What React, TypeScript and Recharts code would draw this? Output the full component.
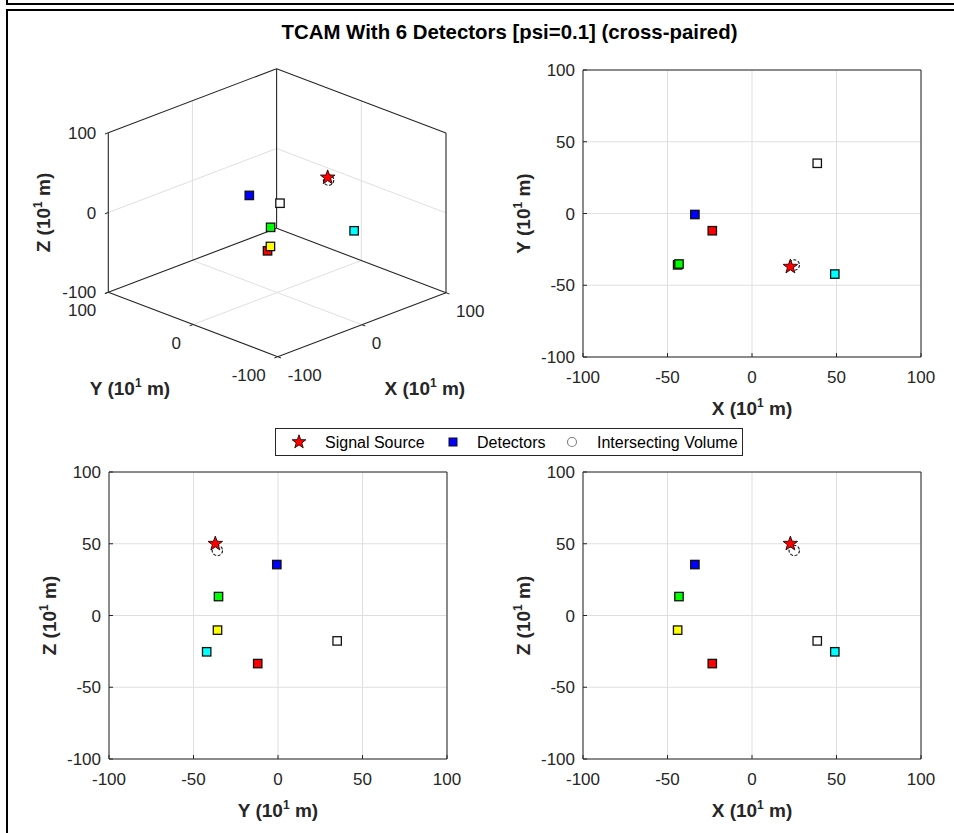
import React from 'react';
import { ScatterChart, Scatter, XAxis, YAxis, CartesianGrid, ReferenceLine } from 'recharts';

const FONT = '"Liberation Sans", Arial, Helvetica, sans-serif';
const AX = '#262626';
const GRID = '#dfdfdf';

const titleText = 'TCAM With 6 Detectors [psi=0.1] (cross-paired)';
const legendLabels = ['Signal Source', 'Detectors', 'Intersecting Volume'];

// detectors (drawing order)
const detectorColors = ['#ff0000', '#0000ff', '#ffff00', '#00ff00', '#00ffff', '#ffffff'];
const detectorX = [-23.5, -33.8, -44.0, -43.2, 49.0, 38.6];
const detectorY = [-12.0, -0.7, -35.8, -35.2, -42.2, 35.0];
const detectorZ = [-33.5, 35.5, -10.2, 13.2, -25.3, -17.7];
// signal source
const sourceX = [22.7];
const sourceY = [-37.1];
const sourceZ = [50.0];
// intersecting volume
const volumeX = [25.0];
const volumeY = [-35.9];
const volumeZ = [45.3];

const axisTicks = [-100, -50, 0, 50, 100];
const ticks3D = [-100, 0, 100];
const AXIS_MIN = -100;
const AXIS_MAX = 100;

// 3D view projection (azimuth -45, stretched MATLAB axes)
const PROJ = { xu: 0.8415, yu: -0.847, xv: 0.32, yv: 0.322, zv: 0.798 };
const proj = (x: number, y: number, z: number) => ({
  a: PROJ.xu * x + PROJ.yu * y,
  b: PROJ.xv * x + PROJ.yv * y + PROJ.zv * z,
});

function starPoints(cx: number, cy: number, R: number, r: number) {
  const pts: string[] = [];
  for (let i = 0; i < 10; i++) {
    const ang = -Math.PI / 2 + (i * Math.PI) / 5;
    const rad = i % 2 === 0 ? R : r;
    pts.push(`${(cx + rad * Math.cos(ang)).toFixed(2)},${(cy + rad * Math.sin(ang)).toFixed(2)}`);
  }
  return pts.join(' ');
}

const SquareShape = (props: any) => {
  const { cx, cy, payload } = props;
  if (cx == null || cy == null) return null;
  return (
    <rect x={cx - 4.2} y={cy - 4.2} width={8.4} height={8.4} fill={payload.fill} stroke="#111" strokeWidth={1.3} />
  );
};
const StarShape = (props: any) => {
  const { cx, cy } = props;
  if (cx == null || cy == null) return null;
  return <polygon points={starPoints(cx, cy, 7.6, 3.1)} fill="#ff0000" stroke="#200000" strokeWidth={0.9} />;
};
const CircleShape = (props: any) => {
  const { cx, cy } = props;
  if (cx == null || cy == null) return null;
  return <circle cx={cx} cy={cy} r={5.2} fill="#ffffff" stroke="#111" strokeWidth={1.1} strokeDasharray="3 1.6" />;
};
const NoShape = () => null;

const AxisTitle = ({ x, y, letter, rotate }: any) => (
  <text
    x={x}
    y={y}
    textAnchor="middle"
    fontFamily={FONT}
    fontSize={19}
    fontWeight="bold"
    fill={AX}
    transform={rotate ? `rotate(-90 ${x} ${y})` : undefined}
  >
    {`${letter} (10`}
    <tspan dy={-8} fontSize={12}>1</tspan>
    <tspan dy={8}>{' m)'}</tspan>
  </text>
);

const xLabel = (letter: string) => (p: any) => {
  const vb = p.viewBox || { x: 0, y: 0, width: 0 };
  return <AxisTitle x={vb.x + vb.width / 2} y={vb.y + 58} letter={letter} />;
};
const yLabel = (letter: string) => (p: any) => {
  const vb = p.viewBox || { x: 0, y: 0, height: 0 };
  return <AxisTitle x={vb.x + 7} y={vb.y + vb.height / 2} letter={letter} rotate />;
};

const tickStyle = { fontSize: 17, fill: AX, fontFamily: FONT };
const noLabel = () => '';

function Panel2D({ plotLeft, plotTop, ha, hb, sa, sb, va, vb, xLetter, yLetter }: any) {
  const PW = 338, PH = 287, ML = 23, YW = 60, MT = 10, MR = 20, XH = 70;
  const det = ha.map((a: number, i: number) => ({ a, b: hb[i], fill: detectorColors[i] }));
  const src = sa.map((a: number, i: number) => ({ a, b: sb[i] }));
  const vol = va.map((a: number, i: number) => ({ a, b: vb[i] }));
  return (
    <div style={{ position: 'absolute', left: plotLeft - ML - YW, top: plotTop - MT }}>
      <ScatterChart width={ML + YW + PW + MR} height={MT + PH + XH} margin={{ top: MT, right: MR, bottom: 0, left: ML }}>
        <CartesianGrid stroke={GRID} strokeWidth={1} />
        <XAxis
          type="number"
          dataKey="a"
          domain={[AXIS_MIN, AXIS_MAX]}
          ticks={axisTicks}
          interval={0}
          height={XH}
          tickSize={-4}
          tickMargin={18}
          stroke={AX}
          tick={tickStyle}
          label={xLabel(xLetter)}
        />
        <XAxis
          xAxisId="top"
          orientation="top"
          type="number"
          dataKey="a"
          domain={[AXIS_MIN, AXIS_MAX]}
          ticks={axisTicks}
          interval={0}
          height={0}
          tickSize={-4}
          stroke={AX}
          tickFormatter={noLabel}
        />
        <YAxis
          type="number"
          dataKey="b"
          domain={[AXIS_MIN, AXIS_MAX]}
          ticks={axisTicks}
          interval={0}
          width={YW}
          tickSize={-4}
          tickMargin={12}
          stroke={AX}
          tick={tickStyle}
          label={yLabel(yLetter)}
        />
        <YAxis
          yAxisId="right"
          orientation="right"
          type="number"
          dataKey="b"
          domain={[AXIS_MIN, AXIS_MAX]}
          ticks={axisTicks}
          interval={0}
          width={0}
          tickSize={-4}
          stroke={AX}
          tickFormatter={noLabel}
        />
        <ReferenceLine y={AXIS_MAX} stroke={AX} strokeWidth={1} ifOverflow="visible" />
        <ReferenceLine x={AXIS_MAX} stroke={AX} strokeWidth={1} ifOverflow="visible" />
        <Scatter data={det} xAxisId="top" yAxisId="right" shape={NoShape} isAnimationActive={false} />
        <Scatter data={det} shape={SquareShape} isAnimationActive={false} />
        <Scatter data={vol} shape={CircleShape} isAnimationActive={false} />
        <Scatter data={src} shape={StarShape} isAnimationActive={false} />
      </ScatterChart>
    </div>
  );
}

const Label3DShape = (props: any) => {
  const { cx, cy, payload } = props;
  if (cx == null || cy == null) return null;
  if (payload.kind === 'title') {
    return <AxisTitle x={cx + payload.dx} y={cy + payload.dy} letter={payload.text} rotate={payload.rotate} />;
  }
  return (
    <text
      x={cx + payload.dx}
      y={cy + payload.dy}
      dy="0.36em"
      textAnchor={payload.anchor}
      fontFamily={FONT}
      fontSize={17}
      fill={AX}
    >
      {payload.text}
    </text>
  );
};

function Panel3D() {
  const U = 170, V = 145, W = 500, HH = 420;
  const cx0 = 277.15, cy0 = 212.7;
  const margin = { left: cx0 - U, top: cy0 - V, right: W - (cx0 + U), bottom: HH - (cy0 + V) };
  const L = AXIS_MIN, H = AXIS_MAX;
  const boxEdges: number[][][] = [
    [[L, H, H], [H, H, H]],
    [[H, H, H], [H, L, H]],
    [[L, H, L], [L, H, H]],
    [[H, L, L], [H, L, H]],
    [[H, H, L], [H, H, H]],
    [[H, H, L], [L, H, L]],
    [[H, H, L], [H, L, L]],
    [[L, H, L], [L, L, L]],
    [[L, L, L], [H, L, L]],
  ];
  const inner = ticks3D.filter((t) => t !== L && t !== H);
  const gridEdges: number[][][] = [];
  inner.forEach((t) => {
    gridEdges.push([[t, H, L], [t, H, H]]);
    gridEdges.push([[L, H, t], [H, H, t]]);
    gridEdges.push([[H, t, L], [H, t, H]]);
    gridEdges.push([[H, L, t], [H, H, t]]);
    gridEdges.push([[t, L, L], [t, H, L]]);
    gridEdges.push([[L, t, L], [H, t, L]]);
  });
  const tickEdges: number[][][] = [];
  ticks3D.forEach((t) => {
    tickEdges.push([[L, t, L], [L - 4, t, L]]);
    tickEdges.push([[t, L, L], [t, L - 4, L]]);
    tickEdges.push([[L, H, t], [L - 4, H, t]]);
  });
  const seg = (e: number[][]) => {
    const p1 = proj(e[0][0], e[0][1], e[0][2]);
    const p2 = proj(e[1][0], e[1][1], e[1][2]);
    return [{ x: p1.a, y: p1.b }, { x: p2.a, y: p2.b }];
  };
  const labels: any[] = [];
  ticks3D.forEach((t) => {
    labels.push({ ...proj(L, H, t), text: String(t), anchor: 'end', dx: -12, dy: 0 });
    labels.push({ ...proj(L, t, L), text: String(t), anchor: 'end', dx: -12, dy: 18 });
    labels.push({ ...proj(t, L, L), text: String(t), anchor: 'start', dx: 10, dy: 18 });
  });
  labels.push({ ...proj(L, H, 0), kind: 'title', text: 'Z', rotate: true, dx: -58, dy: 0 });
  labels.push({ ...proj(L, 0, L), kind: 'title', text: 'Y', dx: -63, dy: 70 });
  labels.push({ ...proj(0, L, L), kind: 'title', text: 'X', dx: 63, dy: 70 });

  const det = detectorX.map((x, i) => ({ ...proj(x, detectorY[i], detectorZ[i]), fill: detectorColors[i] }));
  const src = sourceX.map((x, i) => proj(x, sourceY[i], sourceZ[i]));
  const vol = volumeX.map((x, i) => proj(x, volumeY[i], volumeZ[i]));

  return (
    <div style={{ position: 'absolute', left: 0, top: 0 }}>
      <ScatterChart width={W} height={HH} margin={margin}>
        <XAxis type="number" dataKey="a" domain={[-U, U]} hide />
        <YAxis type="number" dataKey="b" domain={[-V, V]} hide />
        {gridEdges.map((e, i) => (
          <ReferenceLine key={`g${i}`} segment={seg(e)} stroke={GRID} strokeWidth={1} ifOverflow="visible" />
        ))}
        {boxEdges.map((e, i) => (
          <ReferenceLine key={`b${i}`} segment={seg(e)} stroke={AX} strokeWidth={1.1} ifOverflow="visible" />
        ))}
        {tickEdges.map((e, i) => (
          <ReferenceLine key={`t${i}`} segment={seg(e)} stroke={AX} strokeWidth={1} ifOverflow="visible" />
        ))}
        <Scatter data={labels} shape={Label3DShape} isAnimationActive={false} />
        <Scatter data={det} shape={SquareShape} isAnimationActive={false} />
        <Scatter data={vol} shape={CircleShape} isAnimationActive={false} />
        <Scatter data={src} shape={StarShape} isAnimationActive={false} />
      </ScatterChart>
    </div>
  );
}

function LegendBox() {
  return (
    <svg
      width={470}
      height={30}
      style={{ position: 'absolute', left: 274, top: 427 }}
    >
      <rect x={1.5} y={1.5} width={467} height={27} fill="#fff" stroke={AX} strokeWidth={1} />
      <polygon points={starPoints(25, 15, 7.2, 2.9)} fill="#ff0000" stroke="#200000" strokeWidth={0.9} />
      <text x={51} y={21} fontFamily={FONT} fontSize={16} fill="#000">{legendLabels[0]}</text>
      <rect x={175} y={11} width={8} height={8} fill="#0000ff" stroke="#111" strokeWidth={1} />
      <text x={203} y={21} fontFamily={FONT} fontSize={16} fill="#000">{legendLabels[1]}</text>
      <circle cx={298} cy={15} r={4.5} fill="none" stroke="#808080" strokeWidth={1.1} />
      <text x={323} y={21} fontFamily={FONT} fontSize={16} fill="#000">{legendLabels[2]}</text>
    </svg>
  );
}

export default function App() {
  return (
    <div style={{ position: 'absolute', left: 0, top: 0, width: 954, height: 833, background: '#fff', overflow: 'hidden', fontFamily: FONT }}>
      <div style={{ position: 'absolute', left: 6, top: -6, width: 1000, height: 11, border: '2px solid #000', boxSizing: 'border-box' }} />
      <div style={{ position: 'absolute', left: 6, top: 9, width: 1000, height: 900, border: '2px solid #000', boxSizing: 'border-box' }} />
      <svg width={954} height={60} style={{ position: 'absolute', left: 0, top: 0 }}>
        <text x={509.5} y={39} textAnchor="middle" fontFamily={FONT} fontSize={20.4} fontWeight="bold" fill="#000">
          {titleText}
        </text>
      </svg>
      <Panel3D />
      <Panel2D plotLeft={583} plotTop={70} ha={detectorX} hb={detectorY} sa={sourceX} sb={sourceY} va={volumeX} vb={volumeY} xLetter="X" yLetter="Y" />
      <Panel2D plotLeft={109} plotTop={472} ha={detectorY} hb={detectorZ} sa={sourceY} sb={sourceZ} va={volumeY} vb={volumeZ} xLetter="Y" yLetter="Z" />
      <Panel2D plotLeft={583} plotTop={472} ha={detectorX} hb={detectorZ} sa={sourceX} sb={sourceZ} va={volumeX} vb={volumeZ} xLetter="X" yLetter="Z" />
      <LegendBox />
    </div>
  );
}
